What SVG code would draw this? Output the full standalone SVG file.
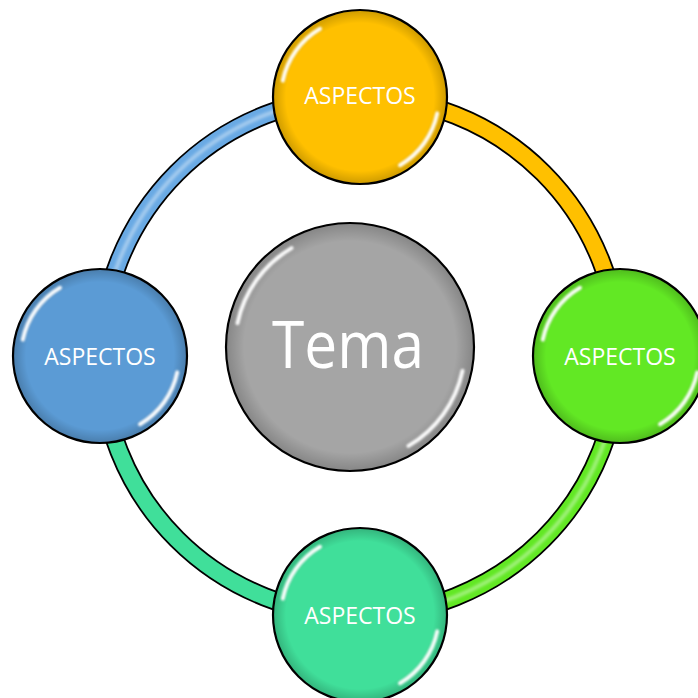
<svg xmlns="http://www.w3.org/2000/svg" xmlns:xlink="http://www.w3.org/1999/xlink" width="698" height="698" viewBox="0 0 698 698">
  <style>
    .edge-out { fill: none; stroke: #000; stroke-width: 19.5; }
    .edge { fill: none; stroke-width: 16; }
    .edge-hl { fill: none; stroke: #fff; stroke-width: 4; opacity: 0.4; filter: url(#blur2); }
    .node { stroke: #000; stroke-width: 2.2; }
    .shade { fill: url(#shade); stroke: none; }
    .hl { fill: none; stroke: #fff; stroke-width: 4; stroke-linecap: round; filter: url(#blur1); opacity: 0.95; }
    .lbl { font-family: "Open Sans", "Liberation Sans", sans-serif; font-size: 23px; fill: #fff; text-anchor: middle; }
    .title { font-family: "Open Sans", "Liberation Sans", sans-serif; font-size: 65px; fill: #fff; text-anchor: middle; }
  </style>
  <defs>
    <radialGradient id="shade" cx="0.5" cy="0.5" r="0.5">
      <stop offset="0.86" stop-color="#000" stop-opacity="0"/>
      <stop offset="1" stop-color="#000" stop-opacity="0.18"/>
    </radialGradient>
    <filter id="blur1" x="-20%" y="-20%" width="140%" height="140%">
      <feGaussianBlur stdDeviation="1.3"/>
    </filter>
    <filter id="blur2" x="-20%" y="-20%" width="140%" height="140%">
      <feGaussianBlur stdDeviation="1.5"/>
    </filter>
    <path id="hl87" d="M -77.2 -16.4 A 79 79 0 0 1 -40.0 -68.2 M 77.2 16.4 A 79 79 0 0 1 40.0 68.2"/>
  </defs>
  <rect width="698" height="698" fill="#fff"/>
  <g id="connectors">
    <path class="edge-out" d="M 360 97 A 259 259 0 0 1 619 356"/>
    <path class="edge-out" d="M 619 356 A 259 259 0 0 1 360 615"/>
    <path class="edge-out" d="M 360 615 A 259 259 0 0 1 101 356"/>
    <path class="edge-out" d="M 101 356 A 259 259 0 0 1 360 97"/>
    <path class="edge" stroke="#FFC000" d="M 360 97 A 259 259 0 0 1 619 356"/>
    <path class="edge" stroke="#62E824" d="M 619 356 A 259 259 0 0 1 360 615"/>
    <path class="edge" stroke="#40DF9A" d="M 360 615 A 259 259 0 0 1 101 356"/>
    <path class="edge" stroke="#6AAAE4" d="M 101 356 A 259 259 0 0 1 360 97"/>
    <path class="edge-hl" d="M 619 356 A 259 259 0 0 1 360 615"/>
    <path class="edge-hl" d="M 101 356 A 259 259 0 0 1 360 97"/>
  </g>
  <g id="node-tema">
    <circle class="node" cx="350" cy="347" r="124" fill="#A5A5A5"/>
    <circle class="shade" cx="350" cy="347" r="123"/>
    <path class="hl" d="M 237.5 323.1 A 115 115 0 0 1 291.5 248.1 M 462.5 370.9 A 115 115 0 0 1 408.5 445.9"/>
    <text class="title" x="348" y="368" textLength="152" lengthAdjust="spacingAndGlyphs">Tema</text>
  </g>
  <g id="node-top">
    <circle class="node" cx="360" cy="97" r="87" fill="#FFC000"/>
    <circle class="shade" cx="360" cy="97" r="86"/>
    <use href="#hl87" xlink:href="#hl87" x="360" y="97" class="hl"/>
    <text class="lbl" x="360" y="104">ASPECTOS</text>
  </g>
  <g id="node-right">
    <circle class="node" cx="620" cy="356" r="87" fill="#62E824"/>
    <circle class="shade" cx="620" cy="356" r="86"/>
    <use href="#hl87" xlink:href="#hl87" x="620" y="356" class="hl"/>
    <text class="lbl" x="620" y="365">ASPECTOS</text>
  </g>
  <g id="node-bottom">
    <circle class="node" cx="360" cy="615" r="87" fill="#40DF9A"/>
    <circle class="shade" cx="360" cy="615" r="86"/>
    <use href="#hl87" xlink:href="#hl87" x="360" y="615" class="hl"/>
    <text class="lbl" x="360" y="624">ASPECTOS</text>
  </g>
  <g id="node-left">
    <circle class="node" cx="100" cy="356" r="87" fill="#5B9BD5"/>
    <circle class="shade" cx="100" cy="356" r="86"/>
    <use href="#hl87" xlink:href="#hl87" x="100" y="356" class="hl"/>
    <text class="lbl" x="100" y="365">ASPECTOS</text>
  </g>
</svg>
